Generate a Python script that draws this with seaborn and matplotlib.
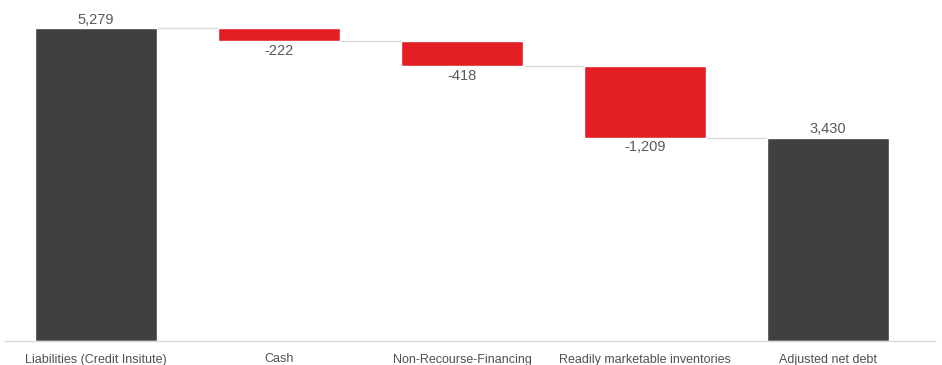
import matplotlib
matplotlib.use("Agg")
import matplotlib.pyplot as plt
import seaborn as sns
import pandas as pd

categories = ["Liabilities (Credit Insitute)", "Cash", "Non-Recourse-Financing",
              "Readily marketable inventories", "Adjusted net debt"]
values = [5279, -222, -418, -1209, 3430]
is_total = [True, False, False, False, True]

DARK = "#404040"
RED = "#E31E24"
LINE = "#D9D9D9"
TEXT = "#595959"

sns.set_theme(style="white")
plt.rcParams["font.family"] = ["Liberation Sans", "DejaVu Sans"]

# running level before each step
starts = []
level = 0
for v, t in zip(values, is_total):
    if t:
        starts.append(0)
        level = v
    else:
        starts.append(level)
        level += v

df = pd.DataFrame({"category": categories, "value": values,
                   "start": starts, "total": is_total})
totals = df[df["total"]]
steps = df[~df["total"]]

fig = plt.figure(figsize=(9.42, 3.65), dpi=100)
ax = fig.add_axes([5 / 942, 24 / 365, 930 / 942, 341 / 365])

BAR_W = 0.667
sns.barplot(data=totals, x="category", y="value", order=categories,
            color=DARK, width=BAR_W, saturation=1, ax=ax)
sns.barplot(data=steps, x="category", y="value", order=categories,
            color=RED, width=BAR_W, saturation=1, ax=ax,
            bottom=steps["start"].to_numpy())

# connectors between consecutive bars
half = BAR_W / 2
for i in range(len(values) - 1):
    top = starts[i] + values[i]
    ax.plot([i + half, i + 1 - half], [top, top], color=LINE, lw=1, zorder=0)

# value labels
for i, (v, s, t) in enumerate(zip(values, starts, is_total)):
    if t:
        ax.annotate(f"{v:,}", (i, v), xytext=(0, 1), textcoords="offset points",
                    ha="center", va="bottom", fontsize=10.5, color=TEXT)
    else:
        ax.annotate(f"{v:,}", (i, s + v), xytext=(0, -2), textcoords="offset points",
                    ha="center", va="top", fontsize=10.5, color=TEXT)

ax.set_xlim(-0.497, 4.585)
ax.set_ylim(0, 5751)
ax.set_xlabel("")
ax.set_ylabel("")
ax.set_yticks([])
for side in ["top", "left", "right"]:
    ax.spines[side].set_visible(False)
ax.spines["bottom"].set_color(LINE)
ax.spines["bottom"].set_linewidth(1)
ax.tick_params(axis="x", length=0, pad=9, labelsize=9, labelcolor="#505050")

fig.savefig("out.png", dpi=100)
